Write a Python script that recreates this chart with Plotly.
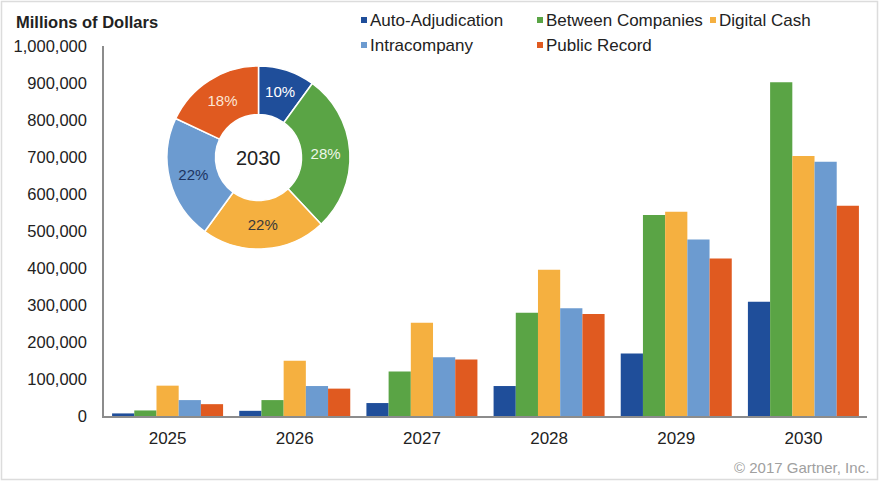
import plotly.graph_objects as go

# ---------------- data ----------------
years = ["2025", "2026", "2027", "2028", "2029", "2030"]
series_names = ["Auto-Adjudication", "Between Companies", "Digital Cash",
                "Intracompany", "Public Record"]
series_colors = ["#1F4E9A", "#5AA445", "#F5B040", "#6C9BD0", "#E05A20"]

auto_adjudication = [7000, 14000, 35000, 81000, 169000, 309000]
between_companies = [15000, 43000, 120000, 279000, 543000, 902000]
digital_cash = [82000, 149000, 252000, 395000, 552000, 703000]
intracompany = [43000, 81000, 159000, 291000, 477000, 687000]
public_record = [32000, 74000, 153000, 276000, 426000, 568000]

pie_share_2030 = [10, 28, 22, 22, 18]
pie_text_colors = ["#FFFFFF", "#EEF7E8", "#3A3A3A", "#1D3461", "#FCE6D6"]

y_tick_values = [0, 100000, 200000, 300000, 400000, 500000,
                 600000, 700000, 800000, 900000, 1000000]
y_tick_labels = ["0", "100,000", "200,000", "300,000", "400,000", "500,000",
                 "600,000", "700,000", "800,000", "900,000", "1,000,000"]

all_series = [auto_adjudication, between_companies, digital_cash,
              intracompany, public_record]

# ---------------- layout geometry (pixels) ----------------
W, H = 879, 481
L, R, T, B = 104, 867, 46, 416  # plot area edges


def px(x):
    return (x - L) / (R - L)


def py(y):
    return (B - y) / (B - T)


FONT = "Liberation Sans, Arial, sans-serif"

fig = go.Figure()

for name, color, vals in zip(series_names, series_colors, all_series):
    fig.add_trace(go.Bar(
        x=years, y=vals, name=name,
        marker=dict(color=color, line=dict(width=0)),
        showlegend=False,
        hovertemplate="%{x}<br>" + name + ": %{y:,}<extra></extra>",
    ))

# donut for 2030
pcx, pcy, pr = 258.5, 157.5, 91.5
fig.add_trace(go.Pie(
    labels=series_names, values=pie_share_2030,
    marker=dict(colors=series_colors, line=dict(color="white", width=1.5)),
    hole=0.47, sort=False, direction="clockwise", rotation=0,
    texttemplate="%{value}%", textposition="inside",
    insidetextorientation="horizontal",
    insidetextfont=dict(family=FONT, size=15, color=pie_text_colors),
    domain=dict(x=[px(pcx - pr), px(pcx + pr)], y=[py(pcy + pr), py(pcy - pr)]),
    showlegend=False,
    hovertemplate="%{label}: %{value}%<extra></extra>",
))

annotations = [
    dict(text="2030", x=px(pcx), y=py(pcy), xref="paper", yref="paper",
         showarrow=False, font=dict(family=FONT, size=20, color="#222222"),
         xanchor="center", yanchor="middle"),
    dict(text="<b>Millions of Dollars</b>", x=px(14), y=py(22),
         xref="paper", yref="paper", showarrow=False,
         font=dict(family=FONT, size=16.5, color="#222222"),
         xanchor="left", yanchor="middle"),
    dict(text="© 2017 Gartner, Inc.", x=px(871), y=py(467),
         xref="paper", yref="paper", showarrow=False,
         font=dict(family=FONT, size=15, color="#A0A0A0"),
         xanchor="right", yanchor="middle"),
]

shapes = [
    dict(type="rect", xref="paper", yref="paper",
         x0=px(1.5), x1=px(877.5), y0=py(479.5), y1=py(1.5),
         line=dict(color="#DCDCDC", width=1.5), layer="below"),
]

# legend (Excel-style, compact markers)
legend_marker_x = [361, 537, 710, 361, 537]
legend_row_y = [20, 20, 20, 45, 45]
sq = 6
for name, color, mx, my in zip(series_names, series_colors, legend_marker_x, legend_row_y):
    shapes.append(dict(type="rect", xref="paper", yref="paper",
                       x0=px(mx), x1=px(mx + sq), y0=py(my + sq / 2), y1=py(my - sq / 2),
                       fillcolor=color, line=dict(width=0)))
    annotations.append(dict(text=name, x=px(mx + sq + 1), y=py(my),
                            xref="paper", yref="paper", showarrow=False,
                            font=dict(family=FONT, size=17, color="#222222"),
                            xanchor="left", yanchor="middle"))

fig.update_layout(
    width=W, height=H, autosize=False,
    margin=dict(l=L, r=W - R, t=T, b=H - B, pad=0),
    paper_bgcolor="white", plot_bgcolor="white",
    barmode="group", bargap=0.127, bargroupgap=0,
    font=dict(family=FONT, color="#222222"),
    annotations=annotations, shapes=shapes,
    xaxis=dict(type="category", range=[-0.5, 5.5], showgrid=False,
               showline=True, linecolor="#8C8C8C", linewidth=1.5,
               ticks="", tickfont=dict(family=FONT, size=17, color="#222222"),
               ticklabelstandoff=6, fixedrange=True),
    yaxis=dict(range=[0, 1000000], tickvals=y_tick_values, ticktext=y_tick_labels,
               showgrid=False, zeroline=False, showline=True,
               linecolor="#8C8C8C", linewidth=1.5, ticks="",
               tickfont=dict(family=FONT, size=16.5, color="#222222"),
               ticklabelstandoff=12, fixedrange=True),
)

fig.write_html("out.html")
